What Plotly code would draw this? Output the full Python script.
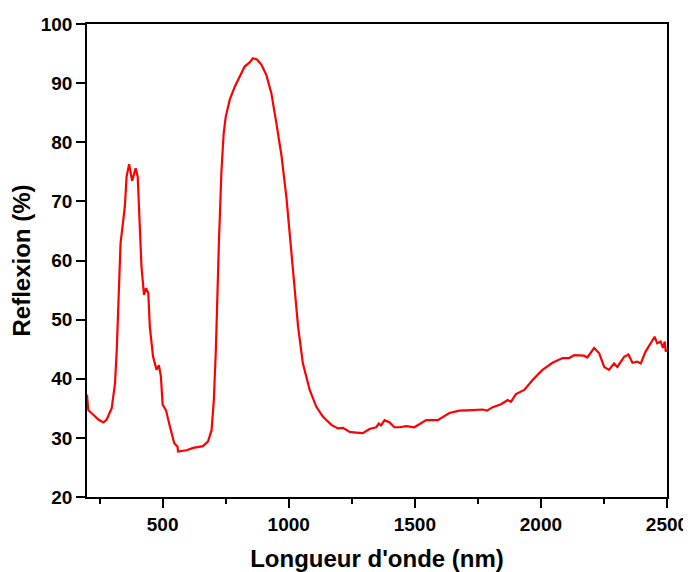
import plotly.graph_objects as go

# Wavelength (nm) and reflection (%)
wavelength = [
    200, 205, 225, 245, 265, 278, 298, 311, 318, 328, 333, 344, 350, 357, 367,
    379, 393, 401, 410, 416, 426, 434, 443, 449, 462, 476, 485, 493, 500, 513,
    529, 546, 559, 561, 595, 621, 660, 680, 694, 703, 711, 716, 723, 733, 742,
    750, 766, 786, 806, 825, 845, 858, 874, 892, 911, 931, 951, 971, 991, 1010,
    1023, 1037, 1056, 1083, 1109, 1135, 1169, 1195, 1215, 1242, 1268, 1294,
    1320, 1347, 1357, 1366, 1380, 1400, 1419, 1439, 1466, 1498, 1545, 1591,
    1637, 1676, 1729, 1769, 1786, 1809, 1842, 1868, 1881, 1901, 1934, 1967,
    2006, 2046, 2086, 2112, 2132, 2171, 2184, 2211, 2231, 2251, 2270, 2290,
    2303, 2330, 2347, 2363, 2382, 2396, 2415, 2435, 2451, 2461, 2475, 2484,
    2491, 2495, 2500,
]
reflexion = [
    37.3, 34.7, 33.9, 33.1, 32.6, 33.1, 35.0, 39.2, 44.9, 56.2, 62.9, 66.9,
    69.1, 74.2, 76.3, 73.5, 75.6, 74.2, 64.6, 59.0, 54.2, 55.3, 54.5, 48.8,
    43.7, 41.5, 42.3, 40.4, 35.6, 34.7, 31.9, 29.1, 28.5, 27.7, 27.9, 28.3,
    28.6, 29.4, 31.3, 36.4, 44.9, 53.3, 63.0, 75.0, 81.5, 84.3, 87.2, 89.4,
    91.1, 92.8, 93.5, 94.2, 94.0, 93.1, 91.4, 88.3, 83.2, 77.8, 70.6, 61.8,
    55.0, 48.8, 42.6, 38.1, 35.3, 33.6, 32.2, 31.6, 31.7, 31.0, 30.9, 30.8,
    31.5, 31.8, 32.4, 32.1, 33.0, 32.6, 31.8, 31.8, 32.0, 31.8, 33.0, 33.0,
    34.2, 34.6, 34.7, 34.8, 34.6, 35.2, 35.7, 36.4, 36.1, 37.4, 38.1, 39.8,
    41.5, 42.7, 43.5, 43.5, 44.0, 43.9, 43.6, 45.2, 44.3, 42.0, 41.5, 42.6,
    42.0, 43.7, 44.1, 42.7, 42.9, 42.6, 44.6, 46.0, 47.1, 46.0, 46.3, 45.2,
    46.3, 44.6, 45.0,
]

font_family = "Liberation Sans, Arial"

fig = go.Figure(go.Scatter(
    x=wavelength,
    y=reflexion,
    mode="lines",
    line=dict(color="#ff0000", width=2.2),
    showlegend=False,
))

axis_style = dict(
    showline=True,
    linecolor="black",
    linewidth=1.5,
    mirror=True,
    showgrid=False,
    zeroline=False,
    automargin=False,
    ticks="outside",
    ticklen=9,
    tickwidth=1.5,
    tickcolor="black",
    tickfont=dict(family=font_family, size=19, color="black", weight="bold"),
)

fig.update_xaxes(
    range=[200, 2500],
    tickvals=[500, 1000, 1500, 2000, 2500],
    minor=dict(tickvals=[250, 750, 1250, 1750, 2250], ticks="outside",
               ticklen=5, tickwidth=1.5, tickcolor="black"),
    title=dict(text="Longueur d'onde (nm)", standoff=20,
               font=dict(family=font_family, size=24, color="black", weight="bold")),
    **axis_style,
)
fig.update_yaxes(
    range=[20, 100],
    tickvals=[20, 30, 40, 50, 60, 70, 80, 90, 100],
    title=dict(text="Reflexion (%)", standoff=10,
               font=dict(family=font_family, size=24, color="black", weight="bold")),
    **axis_style,
)

# the page body adds an 8px offset, so the figure is 8px smaller with trimmed left/top margins
fig.update_layout(
    width=683,
    height=564,
    plot_bgcolor="white",
    paper_bgcolor="white",
    margin=dict(l=79, r=24, t=16, b=75),
)

fig.write_html("out.html")
